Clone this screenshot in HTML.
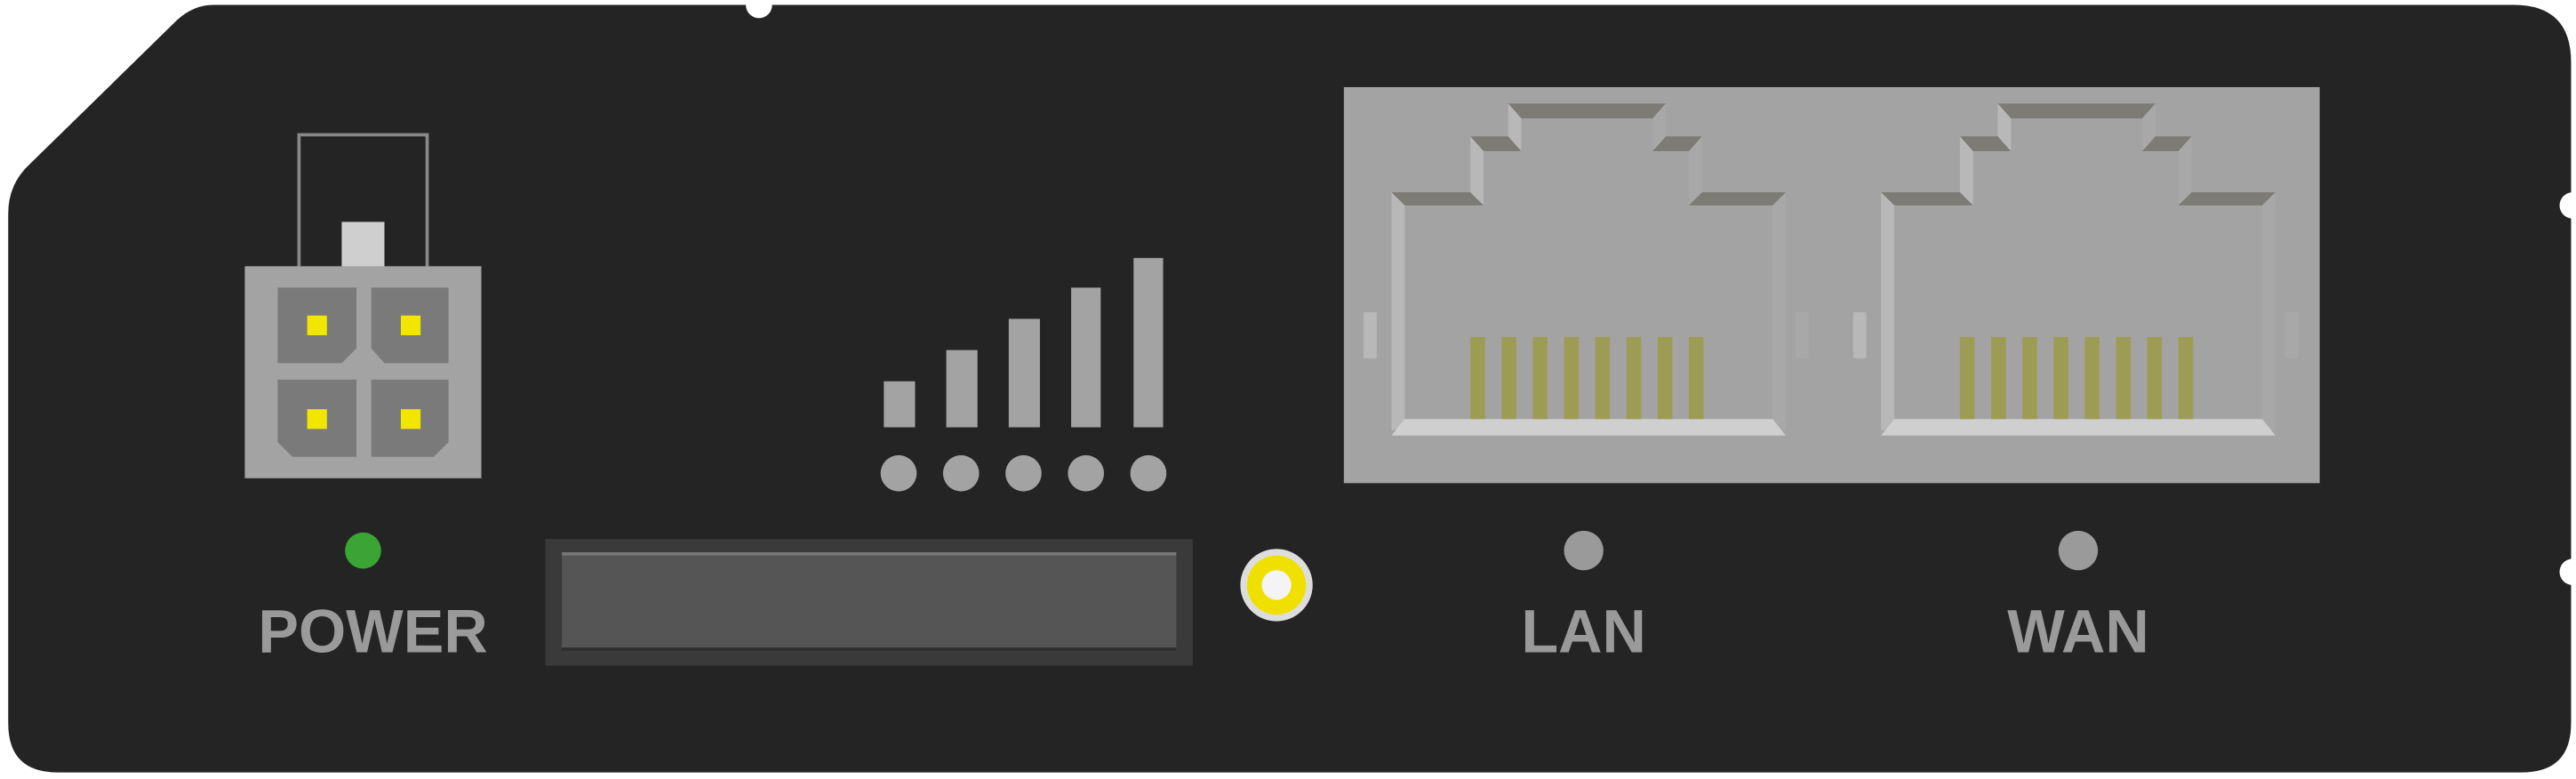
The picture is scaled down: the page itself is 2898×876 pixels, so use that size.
<!DOCTYPE html>
<html><head><meta charset="utf-8"><style>
html,body{margin:0;padding:0;background:#fff;width:2898px;height:876px;overflow:hidden}
svg{display:block}
text{font-family:"Liberation Sans",sans-serif;font-weight:bold;fill:#9a9a9a}
</style></head><body>
<svg width="2898" height="876" viewBox="0 0 1568 474" preserveAspectRatio="none">
<defs>
<g id="port">
  <rect x="847" y="117" width="240" height="145" fill="#a3a3a3"/>
  <polygon points="918,63 1014,63 1006,72 926,72" fill="#7c7b75"/>
  <polygon points="918,63 926,72 926,92 918,83" fill="#b8b8b8"/>
  <polygon points="895,83 918,83 926,92 903,92" fill="#7c7b75"/>
  <polygon points="1006,72 1014,63 1014,83 1006,92" fill="#a8a8a8"/>
  <polygon points="1006,92 1014,83 1036,83 1028,92" fill="#7c7b75"/>
  <polygon points="895,83 903,92 903,125 895,117" fill="#b8b8b8"/>
  <polygon points="1028,92 1036,83 1036,117 1028,125" fill="#a8a8a8"/>
  <polygon points="847,117 895,117 903,125 855,125" fill="#7c7b75"/>
  <polygon points="1028,125 1036,117 1087,117 1079,125" fill="#7c7b75"/>
  <polygon points="847,117 855,125 855,260 847,262" fill="#b8b8b8"/>
  <polygon points="1079,125 1087,117 1087,262 1079,260" fill="#a8a8a8"/>
  <rect x="830" y="190" width="8" height="28" fill="#b8b8b8"/>
  <rect x="1093" y="190" width="8" height="28" fill="#a8a8a8"/>
  <polygon points="855,255 1079,255 1087,265 847,265" fill="#cfcfcf"/>
  <g fill="#9d9c55">
    <rect x="895" y="205" width="9" height="50"/><rect x="914" y="205" width="9" height="50"/>
    <rect x="933" y="205" width="9" height="50"/><rect x="952" y="205" width="9" height="50"/>
    <rect x="971" y="205" width="9" height="50"/><rect x="990" y="205" width="9" height="50"/>
    <rect x="1009" y="205" width="9" height="50"/><rect x="1028" y="205" width="9" height="50"/>
  </g>
</g>
</defs>
<path d="M130,3 L1530,3 Q1565,3 1565,38 L1565,440 Q1565,470 1535,470 L35,470 Q5,470 5,440 L5,130 Q5,112 18,100 L108,12 Q118,3 130,3 Z" fill="#242424"/>
<circle cx="462" cy="3" r="8" fill="#fff"/>
<circle cx="1566" cy="125" r="8" fill="#fff"/>
<circle cx="1566" cy="348" r="8" fill="#fff"/>

<g>
  <rect x="182" y="82" width="78" height="82" fill="none" stroke="#888" stroke-width="2"/>
  <rect x="208" y="135" width="26" height="28" fill="#cfcfcf"/>
  <rect x="149" y="162" width="144" height="129" fill="#a3a3a3"/>
  <polygon points="169,175 217,175 217,212 208,221 169,221" fill="#7a7a7a"/>
  <polygon points="226,175 273,175 273,221 234,221 226,212" fill="#7a7a7a"/>
  <polygon points="169,231 217,231 217,278 178,278 169,269" fill="#7a7a7a"/>
  <polygon points="226,231 273,231 273,269 264,278 226,278" fill="#7a7a7a"/>
  <g fill="#f2e600"><rect x="187" y="192" width="12" height="12"/><rect x="244" y="192" width="12" height="12"/><rect x="187" y="249" width="12" height="12"/><rect x="244" y="249" width="12" height="12"/></g>
</g>
<circle cx="221" cy="335" r="11" fill="#3aa535"/>
<text x="227" y="397" font-size="37" text-anchor="middle">POWER</text>

<g fill="#a3a3a3">
  <rect x="538" y="232" width="19" height="28"/><rect x="576" y="213" width="19" height="47"/>
  <rect x="614" y="194" width="19" height="66"/><rect x="652" y="175" width="18" height="85"/>
  <rect x="690" y="157" width="18" height="103"/>
</g>
<g fill="#a3a3a3">
  <circle cx="547" cy="288" r="11"/><circle cx="585" cy="288" r="11"/><circle cx="623" cy="288" r="11"/><circle cx="661" cy="288" r="11"/><circle cx="699" cy="288" r="11"/>
</g>

<g>
  <rect x="332" y="328" width="394" height="77" fill="#3a3a3a"/>
  <rect x="342" y="337" width="374" height="58" fill="#555"/>
  <line x1="342" y1="337" x2="716" y2="337" stroke="#777" stroke-width="2"/>
  <line x1="342" y1="395" x2="716" y2="395" stroke="#2e2e2e" stroke-width="2"/>
</g>
<g>
  <circle cx="777" cy="356" r="22" fill="#ddd"/>
  <circle cx="777" cy="356" r="18" fill="#f0e000"/>
  <circle cx="777" cy="356" r="9" fill="#f4f4f4"/>
</g>

<rect x="818" y="53" width="594" height="241" fill="#a3a3a3"/>
<use href="#port"/>
<use href="#port" transform="translate(298,0)"/>

<circle cx="964" cy="335" r="12" fill="#9a9a9a"/>
<text x="964" y="397" font-size="37" text-anchor="middle">LAN</text>
<circle cx="1265" cy="335" r="12" fill="#9a9a9a"/>
<text x="1265" y="397" font-size="37" text-anchor="middle">WAN</text>
</svg>
</body></html>
